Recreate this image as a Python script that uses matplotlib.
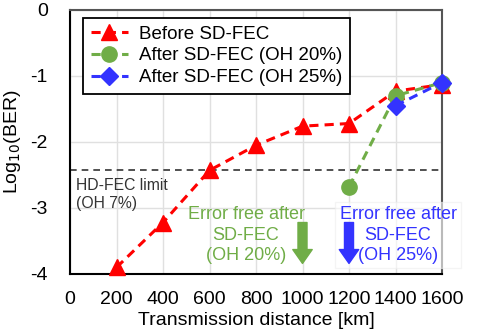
import matplotlib
matplotlib.use("Agg")
import matplotlib.pyplot as plt

plt.rcParams['font.family'] = ['Liberation Sans', 'DejaVu Sans']

dist_before = [200, 400, 600, 800, 1000, 1200, 1400, 1600]
ber_before = [-3.9, -3.22, -2.43, -2.05, -1.76, -1.72, -1.23, -1.13]
dist_oh20 = [1200, 1400, 1600]
ber_oh20 = [-2.68, -1.3, -1.1]
dist_oh25 = [1400, 1600]
ber_oh25 = [-1.45, -1.1]
hd_fec_limit = -2.42
xticks = [0, 200, 400, 600, 800, 1000, 1200, 1400, 1600]
yticks = [0, -1, -2, -3, -4]

fig = plt.figure(figsize=(4.79, 3.32), dpi=100)
ax = fig.add_axes([70/479, 1-274/332, (442-70)/479, (274-10)/332])

ax.grid(True, color='#e0e0e0', linewidth=1)
ax.set_axisbelow(True)

ax.axhline(hd_fec_limit, color='#333333', linestyle=(0, (4, 3)), linewidth=1.2, zorder=2)

ax.plot(dist_before, ber_before, color='#ff0000', linestyle=(0, (3, 2)), linewidth=2.2,
        marker='^', markersize=11.5, label='Before SD-FEC', zorder=3, clip_on=False)
ax.plot(dist_oh20, ber_oh20, color='#70ad47', linestyle=(0, (3, 2)), linewidth=2.2,
        marker='o', markersize=11, label='After SD-FEC (OH 20%)', zorder=4, clip_on=False)
ax.plot(dist_oh25, ber_oh25, color='#3333ff', linestyle=(0, (3, 2)), linewidth=2.2,
        marker='D', markersize=9, label='After SD-FEC (OH 25%)', zorder=5, clip_on=False)

ax.set_xlim(0, 1600)
ax.set_ylim(-4, 0)
ax.set_xticks(xticks)
ax.set_yticks(yticks)
ax.set_yticklabels([str(v) for v in yticks])
ax.tick_params(axis='both', labelsize=14, length=0)
ax.tick_params(axis='x', pad=12)
ax.tick_params(axis='y', pad=16)

for s in ['left', 'bottom']:
    ax.spines[s].set_color('black')
    ax.spines[s].set_linewidth(1.5)
for s in ['top', 'right']:
    ax.spines[s].set_color('#555555')
    ax.spines[s].set_linewidth(1.5)

ax.set_xlabel('Transmission distance [km]', fontsize=14, labelpad=3)
ax.set_ylabel('Log$_{10}$(BER)', fontsize=14, labelpad=5)

leg = ax.legend(loc='upper left', bbox_to_anchor=(0.035, 0.97), fontsize=13.5,
                frameon=True, fancybox=False, edgecolor='black', framealpha=1,
                handlelength=2.0, borderpad=0.4, labelspacing=0.25, handletextpad=0.6,
                borderaxespad=0)
leg.get_frame().set_linewidth(1.3)

ax.text(25, -2.55, 'HD-FEC limit\n(OH 7%)', fontsize=11.3, color='#333333',
        va='top', ha='left', linespacing=1.25)

ax.text(757, -3.41, 'Error free after\nSD-FEC\n(OH 20%)', fontsize=13, color='#70ad47',
        ha='center', va='center', linespacing=1.25)
ax.text(1411, -3.41, 'Error free after\nSD-FEC\n(OH 25%)', fontsize=13, color='#3333ff',
        ha='center', va='center', linespacing=1.25,
        bbox=dict(facecolor='white', edgecolor='#eeeeee', alpha=0.6, pad=3))

ax.annotate('', xy=(1000, -3.84), xytext=(1000, -3.22),
            arrowprops=dict(facecolor='#70ad47', edgecolor='#70ad47', width=6.5, headwidth=14, headlength=10))
ax.annotate('', xy=(1200, -3.84), xytext=(1200, -3.22),
            arrowprops=dict(facecolor='#3333ff', edgecolor='#3333ff', width=6.5, headwidth=14, headlength=10))

fig.savefig('out.png', dpi=100)
